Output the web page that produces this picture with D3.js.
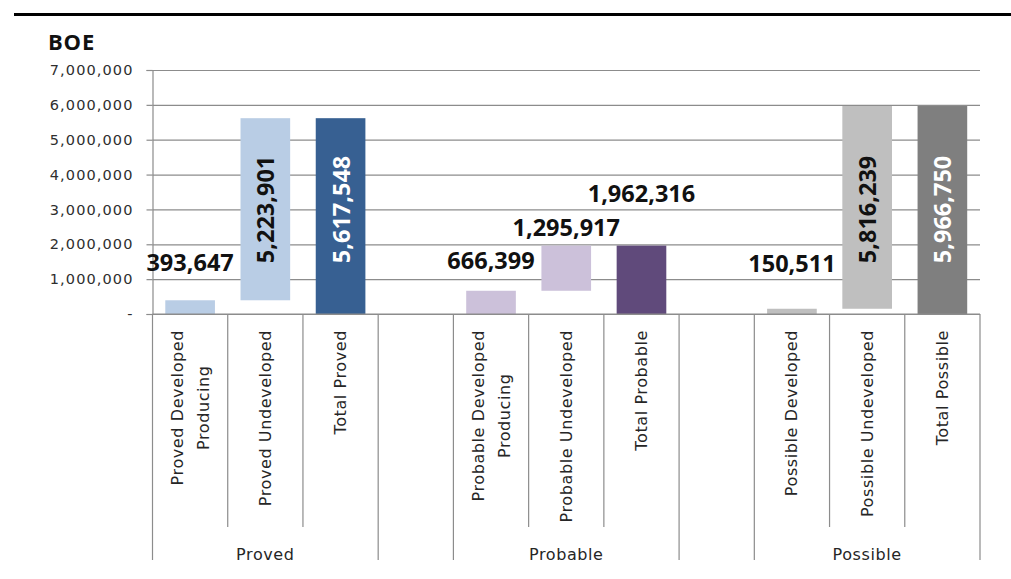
<!DOCTYPE html>
<html>
<head>
<meta charset="utf-8">
<script src="https://cdn.jsdelivr.net/npm/d3@7"></script>
<style>
  body { margin: 0; background: #fff; }
  svg { display: block; }
</style>
</head>
<body>
<div id="chart"></div>
<script>
/* DATA */
const categoryLabels = [
  ["Proved Developed", "Producing"], ["Proved Undeveloped"], ["Total Proved"],
  ["Probable Developed", "Producing"], ["Probable Undeveloped"], ["Total Probable"],
  ["Possible Developed"], ["Possible Undeveloped"], ["Total Possible"]
];
const groupNames = ["Proved", "Probable", "Possible"];
const groupIndex = [0, 0, 0, 1, 1, 1, 2, 2, 2];
const barType = ["step", "step", "total", "step", "step", "total", "step", "step", "total"];
const values = [393647, 5223901, 5617548, 666399, 1295917, 1962316, 150511, 5816239, 5966750];
const yTicks = [0, 1000000, 2000000, 3000000, 4000000, 5000000, 6000000, 7000000];

/* STYLE / LAYOUT */
const W = 1011, H = 579;
const barColors = ["#b9cde5", "#b9cde5", "#376092", "#ccc1da", "#ccc1da", "#604a7b", "#bfbfbf", "#bfbfbf", "#7f7f7f"];
const labelColors = ["#111", "#111", "#fff", "#111", "#111", "#111", "#111", "#111", "#fff"];
// where the flat labels sit (value units)
const flatLabelAt = [1490000, null, null, 1550000, 2500000, 3470000, 1460000, null, null];
const rotatedLabelAt = 3000000;
const plot = { left: 152.5, right: 980, top: 70, bottom: 314 };

// waterfall: steps stack up, totals start at zero
let run = 0;
const bars = values.map((v, i) => {
  let y0, y1;
  if (barType[i] === "total") { y0 = 0; y1 = v; run = 0; }
  else { y0 = run; y1 = run + v; run = y1; }
  return { i, v, y0, y1, key: "c" + i };
});

// slots: the categories with an empty slot between groups
const slots = [];
categoryLabels.forEach((c, i) => {
  slots.push("c" + i);
  if (i < categoryLabels.length - 1 && groupIndex[i + 1] !== groupIndex[i]) slots.push("gap" + i);
});

const svg = d3.select("#chart").append("svg")
  .attr("width", W)
  .attr("height", H);

const xScale = d3.scaleBand()
  .domain(slots)
  .range([plot.left, plot.right])
  .padding(0);

const yScale = d3.scaleLinear()
  .domain([0, 7000000])
  .range([plot.bottom, plot.top]);

const step = xScale.step();
const barW = step * 0.66;

// top rule
svg.append("line")
  .attr("x1", 14).attr("x2", W)
  .attr("y1", 14.5).attr("y2", 14.5)
  .attr("stroke", "#000").attr("stroke-width", 3);

svg.append("text")
  .attr("x", 48).attr("y", 50)
  .style("font", "bold 22px 'Open Sans'")
  .style("letter-spacing", "0.8px")
  .attr("fill", "#111")
  .text("BOE");

// gridlines
svg.append("g")
  .attr("transform", `translate(${plot.left},0)`)
  .call(d3.axisLeft(yScale).tickValues(yTicks).tickSize(-(plot.right - plot.left)).tickFormat(""))
  .call(g => g.select(".domain").remove())
  .call(g => g.selectAll("line").attr("stroke", "#8c8c8c").attr("stroke-width", 1.2));

// y axis
const yAxis = svg.append("g")
  .attr("transform", `translate(${plot.left},0)`)
  .call(d3.axisLeft(yScale).tickValues(yTicks).tickSize(6).tickPadding(13)
    .tickFormat(d => d === 0 ? "-  " : d3.format(",")(d)));
yAxis.select(".domain").attr("stroke", "#8c8c8c").attr("stroke-width", 1.2);
yAxis.selectAll("line").attr("stroke", "#8c8c8c").attr("stroke-width", 1.2);
yAxis.selectAll("text")
  .style("font-family", "'DejaVu Sans'")
  .style("font-size", "14.5px")
  .style("letter-spacing", "1.1px")
  .attr("fill", "#2e2e2e");

// bars
svg.append("g").selectAll("rect")
  .data(bars)
  .join("rect")
  .attr("x", d => xScale(d.key) + (step - barW) / 2)
  .attr("width", barW)
  .attr("y", d => yScale(d.y1))
  .attr("height", d => yScale(d.y0) - yScale(d.y1))
  .attr("fill", d => barColors[d.i]);

// value labels
const fmt = d3.format(",");
const labels = svg.append("g")
  .style("font-family", "'Open Sans'")
  .style("font-weight", "bold")
  .style("font-size", "23.5px");

labels.selectAll("text.flat")
  .data(bars.filter(d => d.v <= 3000000))
  .join("text")
  .attr("class", "flat")
  .attr("x", d => xScale(d.key) + step / 2)
  .attr("y", d => yScale(flatLabelAt[d.i]))
  .attr("text-anchor", "middle")
  .attr("dominant-baseline", "central")
  .attr("fill", d => labelColors[d.i])
  .text(d => fmt(d.v));

labels.selectAll("text.rot")
  .data(bars.filter(d => d.v > 3000000))
  .join("text")
  .attr("class", "rot")
  .attr("transform", d => `translate(${xScale(d.key) + step / 2},${yScale(rotatedLabelAt)}) rotate(-90)`)
  .attr("text-anchor", "middle")
  .attr("dominant-baseline", "central")
  .attr("fill", d => labelColors[d.i])
  .text(d => fmt(d.v));

// category axis: baseline and separators
svg.append("line")
  .attr("x1", plot.left).attr("x2", plot.right)
  .attr("y1", plot.bottom).attr("y2", plot.bottom)
  .attr("stroke", "#8c8c8c").attr("stroke-width", 1.2);

const bounds = d3.range(slots.length + 1).map(k => {
  const isGap = s => s && s.startsWith("gap");
  const long = k === 0 || k === slots.length || isGap(slots[k - 1]) || isGap(slots[k]);
  return { x: plot.left + k * step, long };
});
svg.append("g").selectAll("line")
  .data(bounds)
  .join("line")
  .attr("x1", d => d.x).attr("x2", d => d.x)
  .attr("y1", plot.bottom)
  .attr("y2", d => d.long ? 560 : 527)
  .attr("stroke", "#8c8c8c").attr("stroke-width", 1.2);

// category labels (rotated, lines centred on each other, top at y=330)
const catFont = { family: "'DejaVu Sans'", size: "16px", spacing: "0.6px" };
const lineGap = 26;
categoryLabels.forEach((lines, i) => {
  const cx = xScale("c" + i) + step / 2;
  const g = svg.append("g")
    .attr("transform", `translate(${cx},330) rotate(-90)`);
  const texts = g.selectAll("text")
    .data(lines)
    .join("text")
    .attr("y", (d, j) => (j - (lines.length - 1) / 2) * lineGap)
    .attr("text-anchor", "middle")
    .attr("dominant-baseline", "central")
    .style("font-family", catFont.family)
    .style("font-size", catFont.size)
    .style("letter-spacing", catFont.spacing)
    .attr("fill", "#262626")
    .text(d => d);
  const maxLen = d3.max(texts.nodes(), n => n.getComputedTextLength());
  texts.attr("x", -maxLen / 2);
});

// group labels
groupNames.forEach((name, gi) => {
  const members = d3.range(categoryLabels.length).filter(i => groupIndex[i] === gi);
  const x0 = xScale("c" + members[0]);
  const x1 = xScale("c" + members[members.length - 1]) + step;
  svg.append("text")
    .attr("x", (x0 + x1) / 2)
    .attr("y", 560)
    .attr("text-anchor", "middle")
    .style("font-family", catFont.family)
    .style("font-size", catFont.size)
    .style("letter-spacing", catFont.spacing)
    .attr("fill", "#262626")
    .text(name);
});
</script>
</body>
</html>
